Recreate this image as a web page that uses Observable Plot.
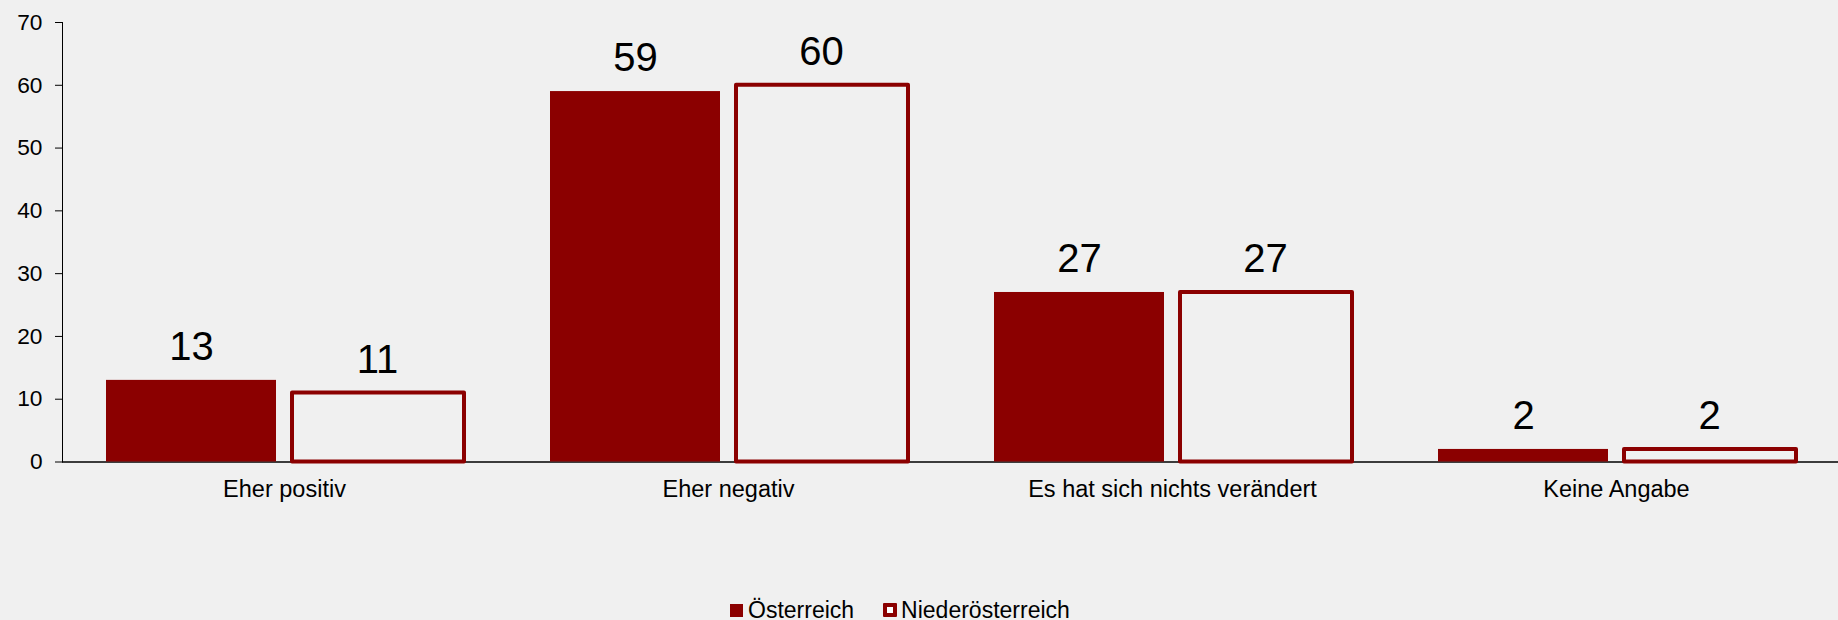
<!DOCTYPE html>
<html>
<head>
<meta charset="utf-8">
<script src="https://cdn.jsdelivr.net/npm/d3@7"></script>
<script src="https://cdn.jsdelivr.net/npm/@observablehq/plot@0.6"></script>
<style>
  html, body { margin: 0; padding: 0; background: #f0f0f0; }
  body { width: 1838px; height: 620px; overflow: hidden; font-family: "Liberation Sans", Arial, sans-serif; }
  #chart svg { display: block; }
  #legend { display: flex; align-items: center; padding-left: 730px; margin-top: 77px; height: 26px; font-size: 23px; color: #000; }
  .item { display: flex; align-items: center; margin-right: 29px; }
  .sw { box-sizing: border-box; width: 13px; height: 13px; margin-right: 5px; }
  .sw.fill { background: #8b0000; }
  .sw.outline { width: 14px; height: 14px; border: 4px solid #8b0000; background: #ffffff; border-radius: 1px; margin-right: 4px; }
</style>
</head>
<body>
<div id="chart"></div>
<div id="legend">
  <div class="item"><span class="sw fill"></span><span>Österreich</span></div>
  <div class="item"><span class="sw outline"></span><span>Niederösterreich</span></div>
</div>
<script>
const categories = ["Eher positiv", "Eher negativ", "Es hat sich nichts verändert", "Keine Angabe"];
const series = ["Österreich", "Niederösterreich"];
const oesterreich = [13, 59, 27, 2];
const niederoesterreich = [11, 60, 27, 2];
const yTicks = [0, 10, 20, 30, 40, 50, 60, 70];

const data = categories.flatMap((c, i) => [
  {category: c, series: series[0], value: oesterreich[i]},
  {category: c, series: series[1], value: niederoesterreich[i]}
]);

const chart = Plot.plot({
  width: 1838,
  height: 520,
  marginLeft: 62,
  marginRight: 0,
  marginTop: 22,
  marginBottom: 58.5,
  style: {background: "#f0f0f0", fontFamily: "'Liberation Sans', Arial, sans-serif", fontSize: "22.7px", color: "#000"},
  fx: {domain: categories, padding: 0, label: null},
  x: {domain: series, paddingInner: 0.085, paddingOuter: 0.23, axis: null},
  y: {domain: [0, 70], ticks: yTicks, tickSize: 7, tickPadding: 13, label: null},
  marks: [
    Plot.axisFx({anchor: "bottom", tickSize: 0, tickPadding: 18, label: null, fontSize: 23.5}),
    Plot.frame({anchor: "left", facetAnchor: "left", stroke: "#000"}),
    Plot.ruleY([0], {stroke: "#000", strokeWidth: 1.5}),
    Plot.barY(data.filter(d => d.series === series[0]), {fx: "category", x: "series", y: "value", fill: "#8b0000"}),
    Plot.barY(data.filter(d => d.series === series[1]), {fx: "category", x: "series", y: "value", fill: "#f0f0f0", stroke: "#8b0000", strokeWidth: 4, strokeLinejoin: "round", insetRight: -2}),
    Plot.text(data, {fx: "category", x: "series", y: "value", text: d => String(d.value), dy: -33, fontSize: 40, fill: "#000"})
  ]
});
document.getElementById("chart").appendChild(chart);
</script>
</body>
</html>
